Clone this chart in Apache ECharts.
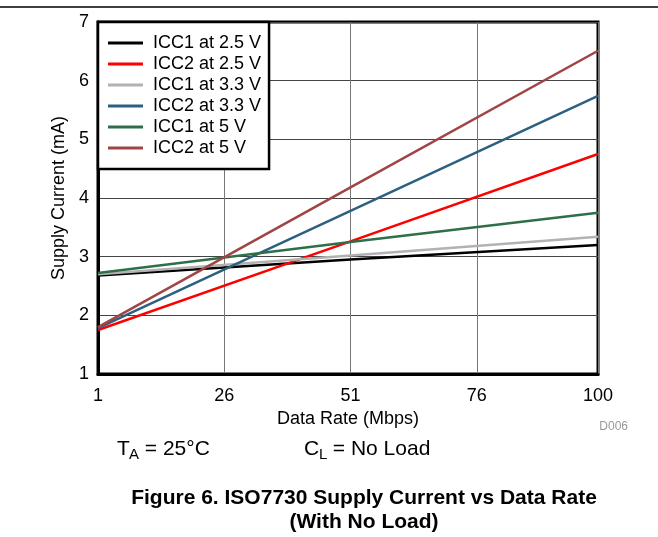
<!DOCTYPE html>
<html>
<head>
<meta charset="utf-8">
<script src="https://cdn.jsdelivr.net/npm/echarts@6/dist/echarts.min.js"></script>
<style>
  html, body { margin: 0; padding: 0; background: #fff; }
  #chart { width: 658px; height: 537px; }
</style>
</head>
<body>
<div id="chart"></div>
<script>
// data rate (Mbps) where the currents were read
const rates = [1, 51, 100]

// supply current (mA)
const icc1At25 = [2.68, 2.95, 3.20]
const icc2At25 = [1.75, 3.26, 4.75]
const icc1At33 = [2.70, 3.02, 3.34]
const icc2At33 = [1.78, 3.78, 5.74]
const icc1At5 = [2.72, 3.25, 3.75]
const icc2At5 = [1.80, 4.18, 6.51]

const seriesNames = ['ICC1 at 2.5 V', 'ICC2 at 2.5 V', 'ICC1 at 3.3 V', 'ICC2 at 3.3 V', 'ICC1 at 5 V', 'ICC2 at 5 V']
const seriesValues = [icc1At25, icc2At25, icc1At33, icc2At33, icc1At5, icc2At5]
const colors = ['#000000', '#ff0000', '#b2b2b2', '#2c6080', '#2f6f48', '#a04444']

// axis starts at 1 Mbps, ticks every 25 -> shift by one so ticks fall on 1, 26, 51, 76
const xOffset = 1

const font = 'Liberation Sans, Arial, sans-serif'
const chart = echarts.init(document.getElementById('chart'))

const option = {
  backgroundColor: '#fff',
  animation: false,
  grid: {
    left: 98,
    right: 60,
    top: 22,
    bottom: 163,
    show: true,
    borderColor: '#000',
    borderWidth: 3
  },
  legend: {
    orient: 'vertical',
    left: 98,
    top: 22,
    backgroundColor: '#fff',
    borderColor: '#000',
    borderWidth: 2.5,
    borderRadius: 0,
    padding: [11, 8, 11, 10],
    itemGap: 1,
    itemWidth: 35,
    itemHeight: 3,
    icon: 'rect',
    data: seriesNames,
    textStyle: {
      fontFamily: font,
      fontSize: 18,
      lineHeight: 20,
      color: '#000',
      padding: [0, 0, 0, 5]
    }
  },
  xAxis: {
    type: 'value',
    min: 0,
    max: 99,
    interval: 25,
    name: 'Data Rate (Mbps)',
    nameLocation: 'middle',
    nameGap: 33,
    nameTextStyle: { fontFamily: font, fontSize: 18, color: '#000' },
    axisLine: { show: true, lineStyle: { color: '#000', width: 3 } },
    axisTick: { show: false },
    axisLabel: {
      margin: 13,
      fontFamily: font,
      fontSize: 18,
      color: '#000',
      formatter: v => String(v + xOffset)
    },
    splitLine: { show: true, lineStyle: { color: '#777', width: 1 } }
  },
  yAxis: {
    type: 'value',
    min: 1,
    max: 7,
    interval: 1,
    name: 'Supply Current (mA)',
    nameLocation: 'middle',
    nameGap: 30,
    nameTextStyle: { fontFamily: font, fontSize: 18, color: '#000' },
    axisLine: { show: true, lineStyle: { color: '#000', width: 3 } },
    axisTick: { show: false },
    axisLabel: { margin: 9, fontFamily: font, fontSize: 18, color: '#000' },
    splitLine: { show: true, lineStyle: { color: '#444', width: 1 } }
  },
  series: seriesNames.map((name, i) => ({
    name: name,
    type: 'line',
    showSymbol: false,
    symbol: 'none',
    color: colors[i],
    lineStyle: { color: colors[i], width: 2.5 },
    data: rates.map((r, j) => [r - xOffset, seriesValues[i][j]])
  })),
  graphic: [
    {
      type: 'line',
      shape: { x1: 0, y1: 7, x2: 658, y2: 7 },
      style: { stroke: '#000', lineWidth: 1.5 }
    },
    {
      type: 'text',
      style: { x: 628, y: 427, text: 'D006', font: '12px ' + font, fill: '#999', align: 'right', verticalAlign: 'middle' }
    },
    {
      type: 'text',
      style: { x: 117, y: 449, text: 'T', font: '21px ' + font, fill: '#000', verticalAlign: 'middle' }
    },
    {
      type: 'text',
      style: { x: 129, y: 455, text: 'A', font: '15px ' + font, fill: '#000', verticalAlign: 'middle' }
    },
    {
      type: 'text',
      style: { x: 139, y: 449, text: ' = 25°C', font: '21px ' + font, fill: '#000', verticalAlign: 'middle' }
    },
    {
      type: 'text',
      style: { x: 304, y: 449, text: 'C', font: '21px ' + font, fill: '#000', verticalAlign: 'middle' }
    },
    {
      type: 'text',
      style: { x: 319, y: 455, text: 'L', font: '15px ' + font, fill: '#000', verticalAlign: 'middle' }
    },
    {
      type: 'text',
      style: { x: 327, y: 449, text: ' = No Load', font: '21px ' + font, fill: '#000', verticalAlign: 'middle' }
    },
    {
      type: 'text',
      style: { x: 364, y: 498, text: 'Figure 6. ISO7730 Supply Current vs Data Rate', font: 'bold 21px ' + font, fill: '#000', align: 'center', verticalAlign: 'middle' }
    },
    {
      type: 'text',
      style: { x: 364, y: 522, text: '(With No Load)', font: 'bold 21px ' + font, fill: '#000', align: 'center', verticalAlign: 'middle' }
    }
  ]
}

chart.setOption(option)
</script>
</body>
</html>
